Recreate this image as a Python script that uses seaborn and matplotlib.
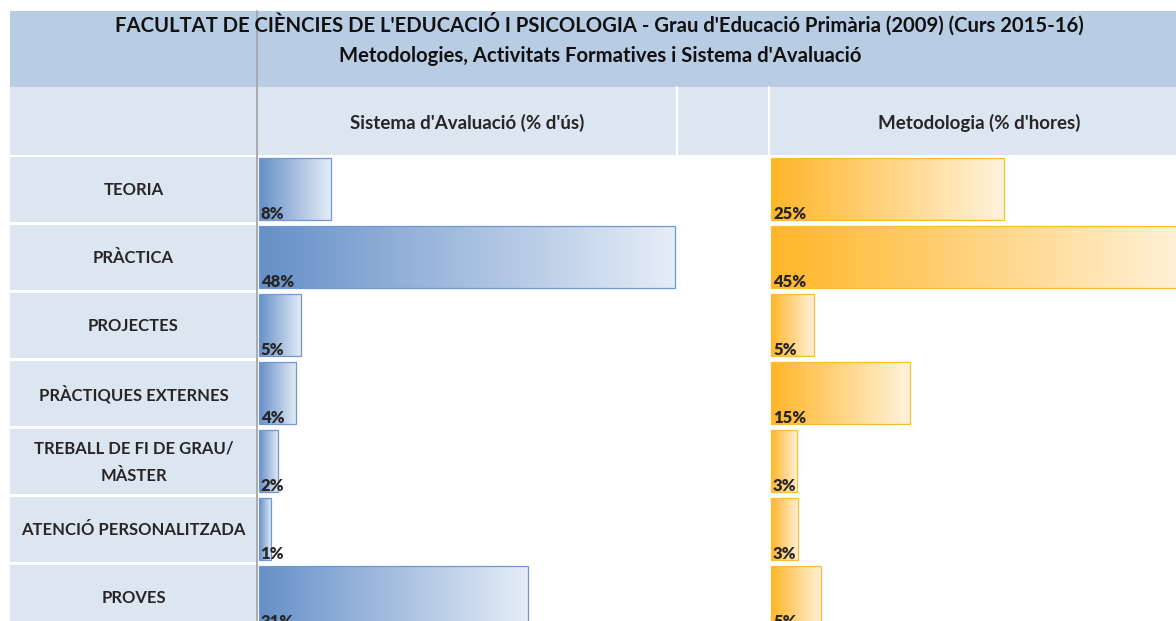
import numpy as np
import pandas as pd
import matplotlib
matplotlib.use('Agg')
import matplotlib.pyplot as plt
import seaborn as sns
from matplotlib.colors import LinearSegmentedColormap
from matplotlib.patches import Rectangle

categories = ['TEORIA', 'PRÀCTICA', 'PROJECTES', 'PRÀCTIQUES EXTERNES',
              'TREBALL DE FI DE GRAU/\nMÀSTER', 'ATENCIÓ PERSONALITZADA', 'PROVES']
avaluacio = [8.4, 48.0, 4.9, 4.3, 2.2, 1.4, 31.1]
metodologia = [25.0, 45.0, 4.6, 14.9, 2.8, 2.9, 5.4]

title_1 = "FACULTAT DE CIÈNCIES DE L'EDUCACIÓ I PSICOLOGIA - Grau d'Educació Primària (2009) (Curs 2015-16)"
title_2 = "Metodologies, Activitats Formatives i Sistema d'Avaluació"
col_titles = ["Sistema d'Avaluació (% d'ús)", "Metodologia (% d'hores)"]

df = pd.DataFrame({'Categoria': categories, 'Avaluacio': avaluacio, 'Metodologia': metodologia})

sns.set_style('white')
plt.rcParams['font.family'] = ['Lato', 'DejaVu Sans']

W, H = 1176, 621
DARK_HDR = '#B8CCE4'
LIGHT_HDR = '#DCE6F1'
TOP, ROW_H = 155, 68
n = len(categories)

fig = plt.figure(figsize=(W / 100, H / 100), dpi=100)


def px_axes(left, top, right, bottom):
    return fig.add_axes([left / W, 1 - bottom / H, (right - left) / W, (bottom - top) / H])


# background table in pixel coords
bg = px_axes(0, 0, W, H)
bg.set_xlim(0, W)
bg.set_ylim(H, 0)
bg.axis('off')
bg.add_patch(Rectangle((10, 11), W - 10, 76, color=DARK_HDR, lw=0))
bg.add_patch(Rectangle((10, 87), W - 10, TOP - 87, color=LIGHT_HDR, lw=0))
for xs in [677, 769]:
    bg.plot([xs, xs], [87, TOP], color='white', lw=1.5)
for i in range(n):
    y0 = TOP + ROW_H * i
    bg.add_patch(Rectangle((10, y0 + 1.5), 247, ROW_H - 3, color=LIGHT_HDR, lw=0))
    bg.text(133.5, y0 + ROW_H / 2 + 1, categories[i], ha='center', va='center',
            fontsize=12, fontweight='bold', linespacing=1.85)
bg.plot([257, 257], [11, H], color='#A6A6A6', lw=1.3)

bg.text(599, 24, title_1, ha='center', va='center', fontsize=14.6, fontweight='bold', color='#111111')
bg.text(600, 56, title_2, ha='center', va='center', fontsize=14.6, fontweight='bold', color='#111111')
bg.text(467, 123, col_titles[0], ha='center', va='center', fontsize=13.5, fontweight='bold')
bg.text(979, 123, col_titles[1], ha='center', va='center', fontsize=13.5, fontweight='bold')


def data_bars(ax, col, xmax, c_dark, c_light, edge):
    sns.barplot(data=df, x=col, y='Categoria', orient='h', color=c_dark,
                width=0.92, ax=ax, errorbar=None)
    cmap = LinearSegmentedColormap.from_list('grad_' + col, [c_dark, c_light])
    grad = np.linspace(0, 1, 256).reshape(1, -1)
    for p in ax.patches:
        x0, y0 = p.get_x(), p.get_y()
        w, h = p.get_width(), p.get_height()
        im = ax.imshow(grad, cmap=cmap, aspect='auto', interpolation='bilinear',
                       extent=(x0, x0 + w, y0 + h, y0), zorder=1)
        im.set_clip_path(p)
        p.set_facecolor('none')
        p.set_edgecolor(edge)
        p.set_linewidth(0.9)
        p.set_zorder(2)
        p.set_clip_on(False)
    for i, v in enumerate(df[col]):
        ax.annotate(f"{round(v)}%", xy=(0, i + 0.44), xytext=(1.5, 0),
                    textcoords='offset points', ha='left', va='baseline',
                    fontsize=12, fontweight='heavy', zorder=3)
    ax.set_xlim(0, xmax)
    ax.set_ylim(n - 0.5, -0.5)
    ax.set_facecolor('none')
    ax.axis('off')


ax1 = px_axes(258.5, TOP, 675, TOP + ROW_H * n)
data_bars(ax1, 'Avaluacio', 48.0, '#6690C8', '#E6EDF7', '#6F98D2')

ax2 = px_axes(771, TOP, 771 + 9.32 * 45, TOP + ROW_H * n)
data_bars(ax2, 'Metodologia', 45.0, '#FFB628', '#FFF2DC', '#FFBA33')

fig.savefig('out.png', dpi=100)
